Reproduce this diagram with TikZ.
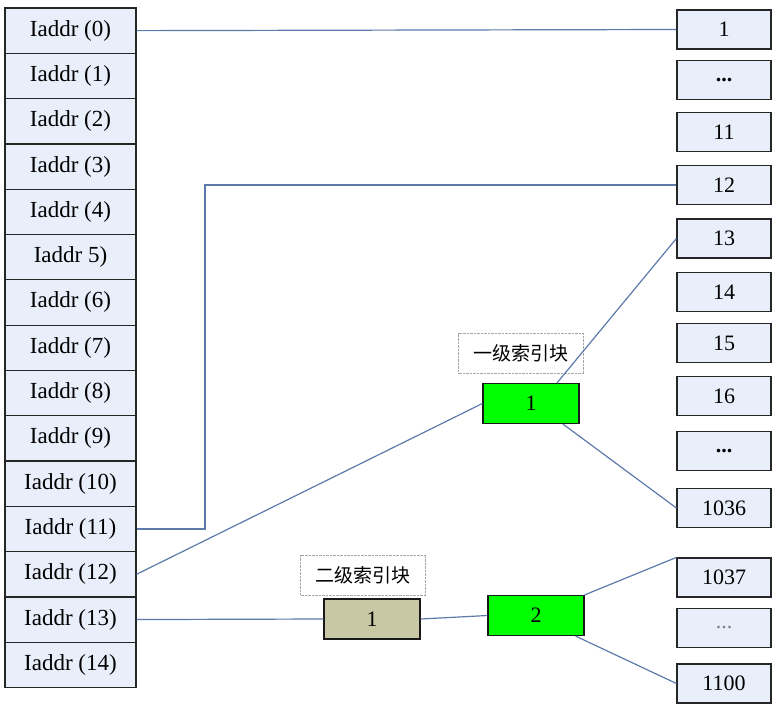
\documentclass[tikz,border=0pt]{standalone}
\usepackage{fontspec}
\setmainfont{Liberation Serif}
\newfontfamily\cjk{Noto Sans CJK SC}
\usepackage{tikz}
\usepackage{xcolor}

\definecolor{cellfill}{RGB}{232,238,250}
\definecolor{wire}{RGB}{92,122,170}
\definecolor{khaki}{RGB}{200,200,164}
\definecolor{brightgreen}{RGB}{0,255,0}

\begin{document}
\begin{tikzpicture}[x=1pt,y=-1pt,
    cell/.style={draw=black!85,fill=cellfill,line width=1.2pt,
        minimum width=131pt,minimum height=45.3pt,inner sep=0pt,
        font=\fontsize{23}{25}\selectfont},
    datablk/.style={draw=black!85,fill=cellfill,line width=1.2pt,
        minimum width=94pt,minimum height=39pt,inner sep=0pt,
        font=\fontsize{22}{24}\selectfont},
    index/.style={draw=black!90,fill=brightgreen,line width=1.2pt,
        minimum width=96pt,minimum height=40pt,inner sep=0pt,
        font=\fontsize{22}{24}\selectfont},
    caption/.style={draw=black!35,densely dotted,fill=white,
        minimum width=125pt,minimum height=40pt,inner sep=0pt,
        font=\cjk\fontsize{19}{22}\selectfont},
    link/.style={draw=wire,line width=1.2pt}
]
    \useasboundingbox (0,0) rectangle (779,707);

    % inode address table
    \node[cell] (a0) at (70.5,30.65) {Iaddr (0)};
    \node[cell] (a1) at (70.5,75.95) {Iaddr (1)};
    \node[cell] (a2) at (70.5,121.25) {Iaddr (2)};
    \node[cell] (a3) at (70.5,166.55) {Iaddr (3)};
    \node[cell] (a4) at (70.5,211.85) {Iaddr (4)};
    \node[cell] (a5) at (70.5,257.15) {Iaddr 5)};
    \node[cell] (a6) at (70.5,302.45) {Iaddr (6)};
    \node[cell] (a7) at (70.5,347.75) {Iaddr (7)};
    \node[cell] (a8) at (70.5,393.05) {Iaddr (8)};
    \node[cell] (a9) at (70.5,438.35) {Iaddr (9)};
    \node[cell] (a10) at (70.5,483.65) {Iaddr (10)};
    \node[cell] (a11) at (70.5,528.95) {Iaddr (11)};
    \node[cell] (a12) at (70.5,574.25) {Iaddr (12)};
    \node[cell] (a13) at (70.5,619.55) {Iaddr (13)};
    \node[cell] (a14) at (70.5,664.85) {Iaddr (14)};

    % data blocks
    \node[datablk] (d1) at (724,29.5) {1};
    \node[datablk] (dA) at (724,80) {\textbf{...}};
    \node[datablk] (d11) at (724,132) {11};
    \node[datablk] (d12) at (724,185) {12};
    \node[datablk] (d13) at (724,238.5) {13};
    \node[datablk] (d14) at (724,292) {14};
    \node[datablk] (d15) at (724,343) {15};
    \node[datablk] (d16) at (724,396) {16};
    \node[datablk] (dB) at (724,451) {\textbf{...}};
    \node[datablk] (d1036) at (724,508) {1036};
    \node[datablk] (d1037) at (724,577.5) {1037};
    \node[datablk] (dC) at (724,628) {\textcolor{black!50}{...}};
    \node[datablk] (d1100) at (724,683.5) {1100};

    % index blocks
    \node[caption] (cap1) at (521,353.5) {一级索引块};
    \node[index] (g1) at (531,403.5) {1};
    \node[caption] (cap2) at (363,575) {二级索引块};
    \node[index,fill=khaki] (s1) at (372,619) {1};
    \node[index] (g2) at (536,615.5) {2};

    \coordinate (bend) at (205,528.95);
    \draw[link] (a0.east) -- (d1.west);
    \draw[link] (a11.east) -- (bend) |- (d12.west);
    \draw[link] (a12.east) -- (g1.west);
    \draw[link] ([xshift=26pt]g1.north) -- (d13.west);
    \draw[link] ([xshift=32pt]g1.south) -- (d1036.west);
    \draw[link] (a13.east) -- (s1.west);
    \draw[link] (s1.east) -- (g2.west);
    \draw[link] (g2.north east) -- (d1037.north west);
    \draw[link] ([xshift=-9pt]g2.south east) -- (d1100.west);
\end{tikzpicture}
\end{document}
